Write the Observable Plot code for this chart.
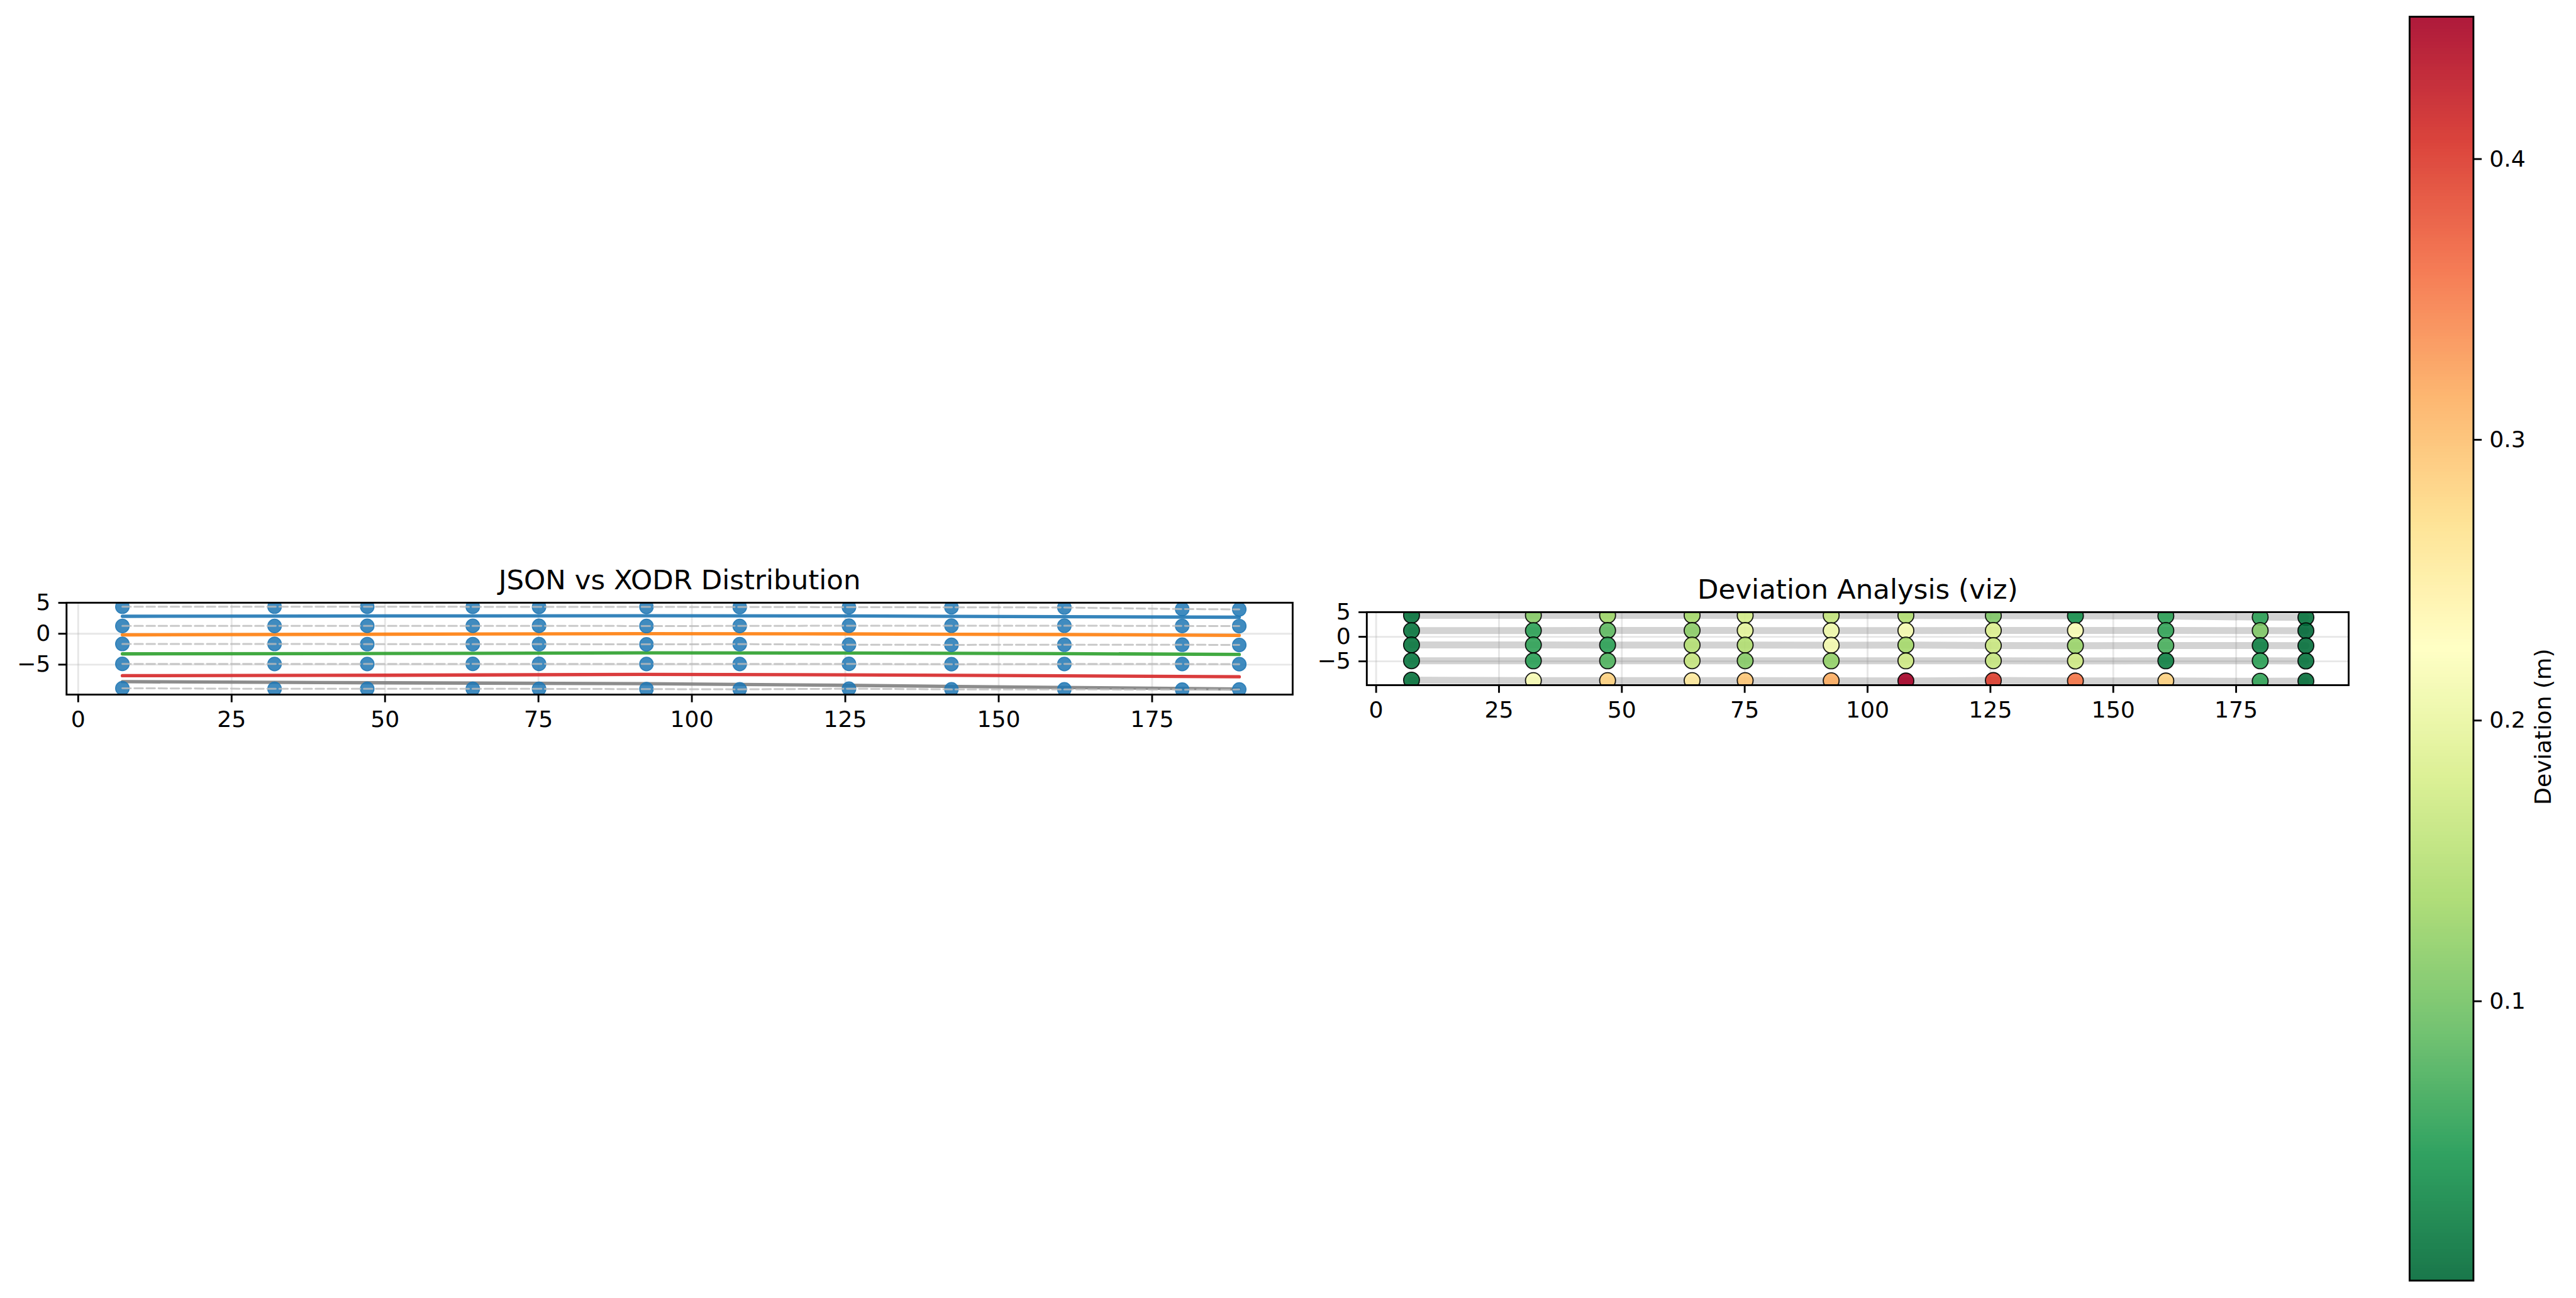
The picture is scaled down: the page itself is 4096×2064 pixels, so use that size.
<!DOCTYPE html>
<html>
<head>
<meta charset="utf-8">
<script src="https://cdn.jsdelivr.net/npm/d3@7"></script>
<script src="https://cdn.jsdelivr.net/npm/@observablehq/plot@0.6"></script>
<style>
html, body { margin: 0; padding: 0; background: #fff; }
#page { position: relative; width: 4096px; height: 2064px; overflow: hidden; background: #fff; font-family: "DejaVu Sans", sans-serif; }
</style>
</head>
<body>
<div id="page"></div>
<script>
// ---------- data ----------
const stations = [7.2, 32.0, 47.1, 64.3, 75.1, 92.6, 107.8, 125.6, 142.3, 160.7, 179.9, 189.2];

const jsonRowA = [4.38, 4.38, 4.37, 4.36, 4.35, 4.34, 4.33, 4.30, 4.28, 4.25, 4.00, 3.94];
const jsonRowB = [1.26, 1.26, 1.28, 1.28, 1.28, 1.25, 1.26, 1.30, 1.30, 1.30, 1.26, 1.24];
const jsonRowC = [-1.65, -1.65, -1.68, -1.68, -1.68, -1.72, -1.68, -1.78, -1.80, -1.78, -1.78, -1.82];
const jsonRowD = [-4.88, -4.90, -4.90, -4.88, -4.88, -4.90, -4.90, -4.88, -4.93, -4.90, -4.90, -4.93];
const jsonRowE = [-8.82, -8.92, -8.92, -8.92, -8.92, -8.96, -9.00, -8.90, -9.00, -9.00, -9.05, -9.02];

const devRowA = [0.010, 0.113, 0.130, 0.135, 0.176, 0.162, 0.145, 0.108, 0.037, 0.055, 0.055, 0.010];
const devRowB = [0.012, 0.055, 0.086, 0.117, 0.194, 0.208, 0.212, 0.185, 0.217, 0.059, 0.108, 0.0005];
const devRowC = [0.012, 0.057, 0.055, 0.148, 0.145, 0.212, 0.135, 0.167, 0.127, 0.073, 0.023, 0.007];
const devRowD = [0.015, 0.054, 0.077, 0.163, 0.113, 0.122, 0.171, 0.163, 0.171, 0.023, 0.055, 0.010];
const devRowE = [0.010, 0.216, 0.284, 0.257, 0.293, 0.316, 0.4507, 0.397, 0.356, 0.284, 0.059, 0.005];

const laneX = [7.2, 50, 92, 125, 160, 189.2];
const lane1 = [2.82, 2.88, 2.91, 2.88, 2.76, 2.67];
const lane2 = [-0.18, -0.08, 0.02, -0.03, -0.13, -0.26];
const lane3 = [-3.26, -3.20, -3.10, -3.12, -3.22, -3.35];
const lane4 = [-6.79, -6.72, -6.58, -6.65, -6.80, -6.97];
const lane5 = [-7.76, -7.94, -8.08, -8.35, -8.70, -8.94];

const xTicks = [0, 25, 50, 75, 100, 125, 150, 175];
const yTicks = [-5, 0, 5];
const cbTicks = [0.1, 0.2, 0.3, 0.4];
const devExtent = [0.0005, 0.4507];
const xDomain = [-1.9, 197.9];
const yDomain = [-9.85, 5.02];

const titleLeft = "JSON vs XODR Distribution";
const titleRight = "Deviation Analysis (viz)";
const cbLabel = "Deviation (m)";

// ---------- styles ----------
const laneNames = ["lane 1", "lane 2", "lane 3", "lane 4", "lane 5"];
const laneColors = ["#1f77b4", "#ff7f0e", "#2ca02c", "#d62728", "#808080"];
const rdylgnReversed = ["#006837", "#1a9850", "#66bd63", "#a6d96a", "#d9ef8b", "#ffffbf",
                        "#fee08b", "#fdae61", "#f46d43", "#d73027", "#a50026"];

// ---------- tables ----------
const rowNames = ["A", "B", "C", "D", "E"];
const jsonRows = [jsonRowA, jsonRowB, jsonRowC, jsonRowD, jsonRowE];
const devRows = [devRowA, devRowB, devRowC, devRowD, devRowE];
const points = rowNames.flatMap((r, k) =>
  stations.map((x, i) => ({row: r, x, y: jsonRows[k][i], dev: devRows[k][i]})));
const laneYs = [lane1, lane2, lane3, lane4, lane5];
const lanePts = laneNames.flatMap((n, k) => laneX.map((x, i) => ({lane: n, x, y: laneYs[k][i]})));

const colorStops = d3.range(11).map(i => devExtent[0] + i * (devExtent[1] - devExtent[0]) / 10);
const colorScale = {type: "linear", domain: colorStops, range: rdylgnReversed, interpolate: "rgb"};

const S = 0.87;
const FS = 41.67 * S;       // tick label font
const TFS = 50 * S;         // title font
const LW = 3.33 * S;        // spine / tick width
const TL = 14.58 * S;       // tick length & pad
const minusFmt = d => d < 0 ? "\u2212" + (-d) : String(d);
const gridOpts = {stroke: "#b0b0b0", strokeOpacity: 0.3, strokeWidth: LW};

function baseStyle(left, top) {
  return {position: "absolute", left: left + "px", top: top + "px", overflow: "visible",
          maxWidth: "none", background: "transparent", fontFamily: "DejaVu Sans", fontSize: FS + "px"};
}
function axes() {
  return [
    Plot.axisX({ticks: xTicks, tickSize: TL, tickPadding: TL, strokeWidth: LW, label: null, tickFormat: minusFmt}),
    Plot.axisY({ticks: yTicks, tickSize: TL, tickPadding: TL, strokeWidth: LW, label: null, tickFormat: minusFmt})
  ];
}

const page = document.getElementById("page");

// ---------- left panel ----------
const leftTop = 860;
const left = Plot.plot({
  width: 2080, height: 340,
  marginLeft: 105.3, marginRight: 2080 - 2054.9,
  marginTop: 957.9 - leftTop, marginBottom: 340 - (1104.0 - leftTop),
  x: {domain: xDomain}, y: {domain: yDomain},
  color: {type: "ordinal", domain: laneNames, range: laneColors},
  style: baseStyle(0, leftTop),
  marks: [
    Plot.gridX(xTicks, gridOpts),
    Plot.gridY(yTicks, gridOpts),
    Plot.line(lanePts, {x: "x", y: "y", z: "lane", stroke: "lane", strokeWidth: 5.3, strokeOpacity: 0.9, clip: true}),
    Plot.dot(points, {x: "x", y: "y", r: 10.9, fill: "#1f77b4", fillOpacity: 0.85,
                      stroke: "#1f77b4", strokeOpacity: 0.85, strokeWidth: 1.4, clip: true}),
    Plot.line(points, {x: "x", y: "y", z: "row", stroke: "#bbbbbb", strokeOpacity: 0.8,
                       strokeWidth: 3, strokeDasharray: "13.4,5.8", clip: true}),
    Plot.frame({stroke: "black", strokeWidth: LW}),
    ...axes(),
    Plot.text([titleLeft], {text: d => d, frameAnchor: "top", lineAnchor: "bottom", dy: -21.75, fontSize: TFS})
  ]
});
page.appendChild(left);

// ---------- right panel ----------
const rTop = 860, rLeft = 2080;
const right = Plot.plot({
  width: 1700, height: 340,
  marginLeft: 2172.8 - rLeft, marginRight: 1700 - (3734.0 - rLeft),
  marginTop: 972.9 - rTop, marginBottom: 340 - (1089.0 - rTop),
  x: {domain: xDomain}, y: {domain: yDomain},
  color: colorScale,
  style: baseStyle(rLeft, rTop),
  marks: [
    Plot.gridX(xTicks, gridOpts),
    Plot.gridY(yTicks, gridOpts),
    Plot.line(points, {x: "x", y: "y", z: "row", stroke: "gray", strokeOpacity: 0.35, strokeWidth: 11, clip: true}),
    Plot.dot(points, {x: "x", y: "y", r: 12.6, fill: "dev", fillOpacity: 0.9,
                      stroke: "black", strokeOpacity: 0.9, strokeWidth: 1.8, clip: true}),
    Plot.frame({stroke: "black", strokeWidth: LW}),
    ...axes(),
    Plot.text([titleRight], {text: d => d, frameAnchor: "top", lineAnchor: "bottom", dy: -21.75, fontSize: TFS})
  ]
});
page.appendChild(right);

// ---------- colorbar ----------
const cbLeft = 3780;
const N = 400;
const cbBins = d3.range(N).map(i => {
  const v0 = devExtent[0] + i * (devExtent[1] - devExtent[0]) / N;
  const v1 = devExtent[0] + (i + 1) * (devExtent[1] - devExtent[0]) / N;
  return {v0, v1, vm: (v0 + v1) / 2};
});
const cb = Plot.plot({
  width: 316, height: 2064,
  marginLeft: 3830.9 - cbLeft, marginRight: 316 - (3932.4 - cbLeft),
  marginTop: 26.1, marginBottom: 2064 - 2035.8,
  x: {domain: [0, 1], axis: null},
  y: {domain: devExtent},
  color: colorScale,
  style: baseStyle(cbLeft, 0),
  marks: [
    Plot.rect(cbBins, {x1: 0, x2: 1, y1: "v0", y2: "v1", fill: "vm", fillOpacity: 0.9, shapeRendering: "crispEdges"}),
    Plot.frame({stroke: "black", strokeWidth: LW}),
    Plot.axisY({anchor: "right", ticks: cbTicks, tickFormat: d3.format(".1f"), tickSize: TL, tickPadding: TL,
                strokeWidth: LW, label: null}),
    Plot.text([cbLabel], {text: d => d, frameAnchor: "right", rotate: -90, dx: 111.4, fontSize: FS})
  ]
});
page.appendChild(cb);
</script>
</body>
</html>
